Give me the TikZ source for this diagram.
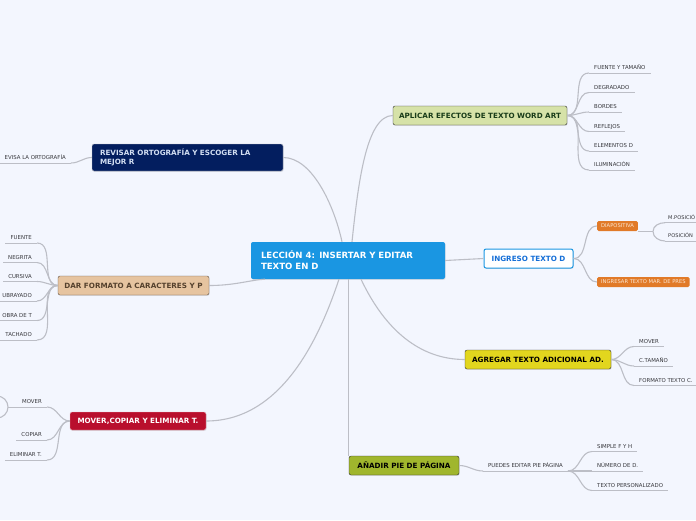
\documentclass[tikz,border=0pt]{standalone}
\usepackage{fontspec}
\setmainfont{DejaVu Sans}
\usetikzlibrary{positioning, shadows}
\definecolor{mmbg}{RGB}{243,246,254}
\definecolor{mmline}{RGB}{188,190,198}
\definecolor{mmtext}{RGB}{55,55,60}
\definecolor{mmblue}{RGB}{26,150,226}
\definecolor{mmbluetext}{RGB}{20,110,215}
\definecolor{mmgreen}{RGB}{214,226,168}
\definecolor{mmgreentext}{RGB}{25,60,25}
\definecolor{mmdark}{RGB}{45,45,45}
\definecolor{mmnavy}{RGB}{3,30,95}
\definecolor{mmnavytext}{RGB}{210,222,242}
\definecolor{mmtan}{RGB}{230,196,160}
\definecolor{mmbrown}{RGB}{95,80,65}
\definecolor{mmbrowntext}{RGB}{85,65,45}
\definecolor{mmred}{RGB}{185,15,45}
\definecolor{mmyellow}{RGB}{226,214,30}
\definecolor{mmolive}{RGB}{160,182,45}
\definecolor{mmorange}{RGB}{225,122,40}
\definecolor{mmorangetext}{RGB}{252,232,212}

\begin{document}
\begin{tikzpicture}[
		% coordinates in pixels, y downwards
		x=1pt, y=-1pt,
		% styles
		topic/.style={rectangle, rounded corners=2pt, minimum height=19pt, inner sep=0pt, align=center, font=\fontsize{7.2}{8.6}\selectfont\bfseries, drop shadow={opacity=0.2, shadow xshift=0.6pt, shadow yshift=-0.8pt}},
		sub/.style={font=\fontsize{5.4}{6}\selectfont, text=mmtext, inner xsep=5pt, inner ysep=3pt, text height=4pt, text depth=0pt},
		tag/.style={rectangle, rounded corners=1.5pt, fill=mmorange, text=mmorangetext, font=\fontsize{5.2}{6}\selectfont, minimum height=10pt, inner xsep=4pt, inner ysep=0pt, anchor=west},
		link/.style={draw=mmline, line width=1.1pt},
		uline/.style={draw=mmline, line width=0.8pt}
		]
		
		% ==========================================
		% Background
		% ==========================================
		\fill[mmbg] (0,0) rectangle (696,520);
		\useasboundingbox (0,0) rectangle (696,520);
		\clip (0,0) rectangle (696,520);
		
		% ==========================================
		% Central topic and main topics
		% ==========================================
		\node[topic, fill=mmblue, text=white, minimum width=194pt, minimum height=37pt, text width=174pt, align=left, font=\fontsize{8.6}{11}\selectfont\bfseries] (lec) at (348,260.5) {LECCIÓN 4: INSERTAR Y EDITAR\\TEXTO EN D};
		
		\node[topic, fill=mmgreen, draw=mmdark, text=mmgreentext, minimum width=174pt] (efec) at (480,115.5) {APLICAR EFECTOS DE TEXTO WORD ART};
		\node[topic, fill=mmnavy, draw=mmline, text=mmnavytext, minimum width=191pt, minimum height=27pt, text width=175pt, align=left] (orto) at (187.5,157.5) {REVISAR ORTOGRAFÍA Y ESCOGER LA\\MEJOR R};
		\node[topic, fill=mmtan, draw=mmbrown, text=mmbrowntext, minimum width=151pt] (form) at (133.5,285.5) {DAR FORMATO A CARACTERES Y P};
		\node[topic, fill=mmred, draw=white!70!mmred, text=white, minimum width=136pt, minimum height=18pt] (mcel) at (138,421) {MOVER,COPIAR Y ELIMINAR T.};
		\node[topic, fill=white, draw=mmblue, line width=1pt, text=mmbluetext, minimum width=89pt] (ingr) at (528.5,258.5) {INGRESO TEXTO D};
		\node[topic, fill=mmyellow, draw=mmdark, text=black, minimum width=146pt] (agre) at (538,359.5) {AGREGAR TEXTO ADICIONAL AD.};
		\node[topic, fill=mmolive, draw=mmdark, text=black, minimum width=110pt] (piep) at (404,465.5) {AÑADIR PIE DE PÁGINA};
		
		% main links
		\draw[link] (orto.east) .. controls (312,157.5) and (334,205) .. ([xshift=-6pt]lec.north);
		\draw[link] ([xshift=4pt]lec.north) .. controls (358,185) and (366,115.5) .. (efec.west);
		\draw[link] (form.east) .. controls (235,285.5) and (250,280) .. ([xshift=14pt]lec.south west);
		\draw[link] (mcel.east) .. controls (285,421) and (322,330) .. ([xshift=-9pt]lec.south);
		\draw[link] (lec.east) -- (ingr.west);
		\draw[link] ([xshift=13pt]lec.south) .. controls (385,330) and (420,359.5) .. (agre.west);
		\draw[link] (lec.south -| piep.north west) -- (piep.north west);
		
		% ==========================================
		% Subtopics
		% ==========================================
		% aplicar efectos
		\foreach \t/\yy [count=\i] in {FUENTE Y TAMAÑO/73, DEGRADADO/92.5, BORDES/112, REFLEJOS/131.5, ELEMENTOS D/151, ILUMINACIÓN/170} {
			\node[sub, anchor=south west] (ef\i) at (589,\yy) {\t};
			\draw[link] (efec.east) to[out=0, in=180] (ef\i.south west);
			\draw[uline] (ef\i.south west) -- (ef\i.south east);
		}
		
		% revisar ortografia
		\node[sub, anchor=south east] (or1) at (71,163) {EVISA LA ORTOGRAFÍA};
		\draw[uline] (or1.south west) -- (or1.south east);
		\draw[link] (or1.south east) to[out=0, in=180] (orto.west);
		
		% dar formato
		\foreach \t/\yy [count=\i] in {FUENTE/243, NEGRITA/262.5, CURSIVA/281.5, UBRAYADO/301, OBRA DE T/320.5, TACHADO/340} {
			\node[sub, anchor=south east] (fo\i) at (37,\yy) {\t};
			\draw[uline] (fo\i.south west) -- (fo\i.south east);
			\draw[link] (fo\i.south east) to[out=0, in=180] (form.west);
		}
		
		% mover, copiar y eliminar
		\foreach \t/\yy [count=\i] in {MOVER/407, COPIAR/440, ELIMINAR T./460} {
			\node[sub, anchor=south east] (mv\i) at (47,\yy) {\t};
			\draw[uline] (mv\i.south west) -- (mv\i.south east);
			\draw[link] (mv\i.south east) to[out=0, in=180] (mcel.west);
		}
		\coordinate (mvk) at (8,407);
		\draw[uline] (mv1.south west) -- (mvk);
		\draw[link] (-3,396) to[out=0, in=90] (mvk) to[out=-90, in=0] (-3,418);
		
		% ingreso texto
		\node[tag] (dia) at (597,226) {DIAPOSITIVA};
		\node[tag] (mar) at (597,282) {INGRESAR TEXTO MAR. DE PRES};
		\draw[link] (ingr.east) to[out=0, in=180] (dia.west);
		\draw[link] (ingr.east) to[out=0, in=180] (mar.west);
		
		\coordinate (dk) at (653,231.5);
		\draw[link] (dia.east |- dk) -- (dk);
		\foreach \t/\yy [count=\i] in {M.POSICIÓ/222.7, POSICIÓN/241} {
			\node[sub, anchor=south west, inner xsep=3pt, font=\fontsize{5.1}{6}\selectfont] (dp\i) at (665,\yy) {\t};
			\draw[uline] (dp\i.south west) -- (696,\yy);
		}
		\draw[link] (dp1.south west) to[out=180, in=90] (dk) to[out=-90, in=180] (dp2.south west);
		
		% agregar texto
		\foreach \t/\yy [count=\i] in {MOVER/346.5, C.TAMAÑO/366, FORMATO TEXTO C./385.5} {
			\node[sub, anchor=south west] (ag\i) at (634,\yy) {\t};
			\draw[link] (agre.east) to[out=0, in=180] (ag\i.south west);
			\draw[uline] (ag\i.south west) -- (ag\i.south east);
		}
		
		% pie de pagina
		\node[sub, anchor=south west] (pe) at (483,471) {PUEDES EDITAR PIE PÁGINA};
		\draw[link] (piep.east) to[out=0, in=180] (pe.south west);
		\draw[uline] (pe.south west) -- (pe.south east);
		\foreach \t/\yy [count=\i] in {SIMPLE F Y H/451.5, NÚMERO DE D./471, TEXTO PERSONALIZADO/490.5} {
			\node[sub, anchor=south west] (pp\i) at (592,\yy) {\t};
			\draw[link] (pe.south east) to[out=0, in=180] (pp\i.south west);
			\draw[uline] (pp\i.south west) -- (pp\i.south east);
		}
		
	\end{tikzpicture}
\end{document}
